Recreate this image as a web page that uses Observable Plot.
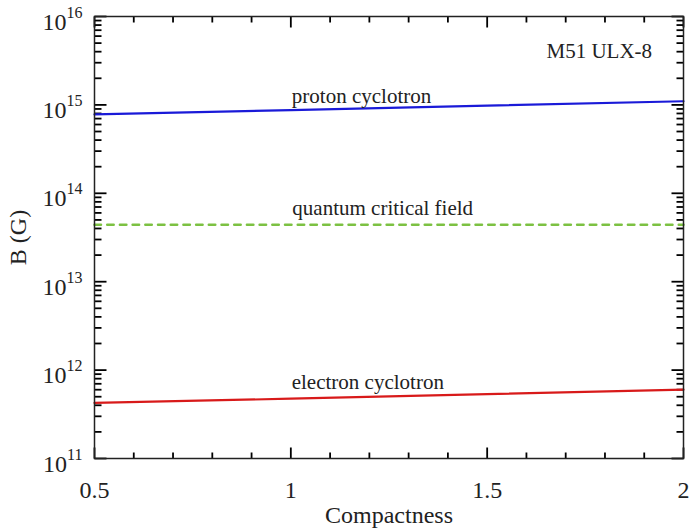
<!DOCTYPE html>
<html><head><meta charset="utf-8">
<script src="https://cdn.jsdelivr.net/npm/d3@7"></script>
<script src="https://cdn.jsdelivr.net/npm/@observablehq/plot@0.6"></script>
<style>
body{margin:0;background:#fff}
#chart svg, #chart svg text { font-family: "Liberation Serif", "Times New Roman", Times, "DejaVu Serif", serif !important; }
</style>
</head><body><div id="chart"></div>
<script>
// Data
const compactness = [0.5, 1.0, 1.5, 2.0];
const protonB = [7.8e14, 8.75e14, 9.8e14, 1.1e15];
const electronB = [4.25e11, 4.75e11, 5.35e11, 6.0e11];
const criticalX = [0.5, 2.0];
const criticalB = [4.414e13, 4.414e13];

// Ticks
const xMajor = [0.5, 1, 1.5, 2];
const xMinor = [0.6, 0.7, 0.8, 0.9, 1.1, 1.2, 1.3, 1.4, 1.6, 1.7, 1.8, 1.9];
const yMajor = [1e11, 1e12, 1e13, 1e14, 1e15, 1e16];
const yMinor = yMajor.slice(0, -1).flatMap(d => [2,3,4,5,6,7,8,9].map(m => m * d));

// Annotations
const annoText = ["proton cyclotron", "quantum critical field", "electron cyclotron"];
const annoX = [1.18, 1.234, 1.196];
const annoY = [1.04e15, 5.64e13, 6.1e11];
const tagText = ["M51 ULX-8"];
const tagX = [1.92];
const tagY = [3.43e15];

const series = [
  ...compactness.map((x, i) => ({x, y: protonB[i], s: "proton"})),
  ...compactness.map((x, i) => ({x, y: electronB[i], s: "electron"}))
];
const critical = criticalX.map((x, i) => ({x, y: criticalB[i]}));
const annos = annoText.map((t, i) => ({t, x: annoX[i], y: annoY[i]}));
const tags = tagText.map((t, i) => ({t, x: tagX[i], y: tagY[i]}));

const W = 692, H = 528, ML = 94, MR = 9, MT = 16, MB = 70;
const PW = W - ML - MR, PH = H - MT - MB;
const xDom = [0.5, 2], yDom = [1e11, 1e16];
// pixel tick lengths converted to data units through the plot size
const dxPx = px => px * (xDom[1] - xDom[0]) / PW;
const kyPx = px => Math.pow(10, px * 5 / PH);
const tk = {stroke: "#000", strokeWidth: 1.8};

const yTicks = (vals, len) => [
  Plot.link(vals, {x1: () => xDom[0], x2: () => xDom[0] + dxPx(len), y1: d => d, y2: d => d, ...tk}),
  Plot.link(vals, {x1: () => xDom[1], x2: () => xDom[1] - dxPx(len), y1: d => d, y2: d => d, ...tk})
];
const xTicks = (vals, len) => [
  Plot.link(vals, {x1: d => d, x2: d => d, y1: () => yDom[0], y2: () => yDom[0] * kyPx(len), ...tk}),
  Plot.link(vals, {x1: d => d, x2: d => d, y1: () => yDom[1], y2: () => yDom[1] / kyPx(len), ...tk})
];

const chart = Plot.plot({
  width: W, height: H,
  marginLeft: ML, marginRight: MR, marginTop: MT, marginBottom: MB,
  style: {fontFamily: '"Liberation Serif", serif', fontSize: "24px", color: "#222", background: "#fff"},
  x: {domain: xDom},
  y: {type: "log", domain: yDom},
  marks: [
    Plot.axisY(yMajor, {anchor: "left", tickSize: 0, tickPadding: 12, tickFormat: d => String(Math.round(Math.log10(d))), label: "B (G)", labelAnchor: "center", labelOffset: 86, labelArrow: "none"}),
    Plot.axisX(xMajor, {anchor: "bottom", tickSize: 0, tickPadding: 22, tickFormat: d => String(d), label: "Compactness", labelAnchor: "center", labelOffset: 64, labelArrow: "none"}),
    ...yTicks(yMajor, 12),
    ...yTicks(yMinor, 7),
    ...xTicks(xMajor, 11),
    ...xTicks(xMinor, 6),
    Plot.line(critical, {x: "x", y: "y", stroke: "#7cc142", strokeWidth: 2.5, strokeDasharray: "6.5,6.2"}),
    Plot.line(series.filter(d => d.s === "proton"), {x: "x", y: "y", stroke: "#1a1ad8", strokeWidth: 2.2}),
    Plot.line(series.filter(d => d.s === "electron"), {x: "x", y: "y", stroke: "#d81a1a", strokeWidth: 2.2}),
    Plot.text(annos, {x: "x", y: "y", text: "t", textAnchor: "middle", lineAnchor: "bottom", fontSize: 21, fill: "#222"}),
    Plot.text(tags, {x: "x", y: "y", text: "t", textAnchor: "end", lineAnchor: "bottom", fontSize: 21, fill: "#222"}),
    Plot.frame({stroke: "#222", strokeWidth: 1.5})
  ]
});

// Render y tick labels as 10 with a superscript exponent
const ns = "http://www.w3.org/2000/svg";
chart.querySelectorAll('g[aria-label="y-axis tick label"] text').forEach(t => {
  const e = t.textContent;
  t.textContent = "";
  const base = document.createElementNS(ns, "tspan");
  base.textContent = "10";
  const sup = document.createElementNS(ns, "tspan");
  sup.textContent = e;
  sup.setAttribute("dy", "-12");
  sup.setAttribute("font-size", "16");
  t.appendChild(base);
  t.appendChild(sup);
  t.setAttribute("y", "13");
});

document.getElementById("chart").appendChild(chart);
</script>
</body></html>
